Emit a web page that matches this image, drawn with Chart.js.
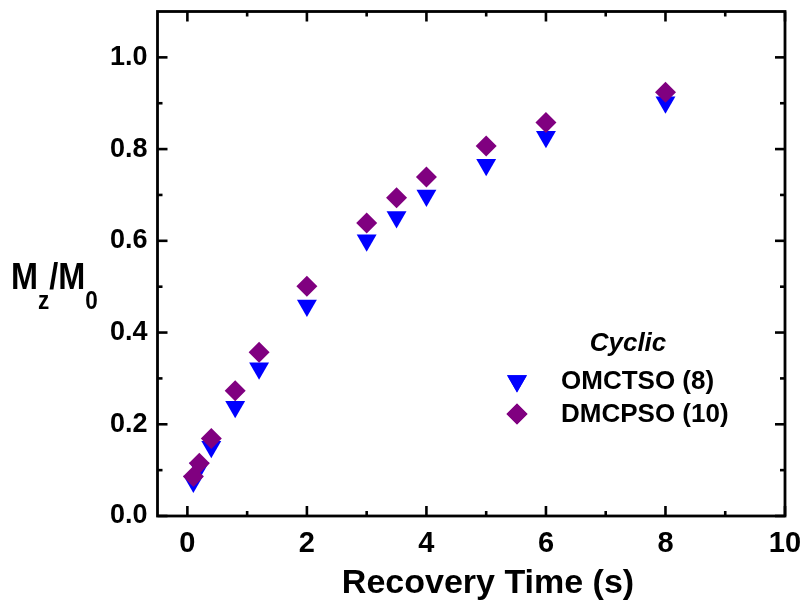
<!DOCTYPE html>
<html><head><meta charset="utf-8">
<script src="https://cdn.jsdelivr.net/npm/chart.js@4/dist/chart.umd.min.js"></script>
<style>html,body{margin:0;padding:0;background:#fff;overflow:hidden}#wrap{width:808px;height:613px}</style>
</head><body><div id="wrap"><canvas id="c" width="808" height="613"></canvas></div>
<script>
// ---- data ----
const recoveryTime = [0.1, 0.2, 0.4, 0.8, 1.2, 2, 3, 3.5, 4, 5, 6, 8];
const omctso = [0.075, 0.105, 0.151, 0.238, 0.322, 0.459, 0.601, 0.652, 0.699, 0.766, 0.827, 0.902];
const dmcpso = [0.086, 0.115, 0.169, 0.273, 0.357, 0.501, 0.639, 0.694, 0.739, 0.807, 0.858, 0.924];
const seriesLabels = ['OMCTSO (8)', 'DMCPSO (10)'];
const legendTitle = 'Cyclic';
const xTitle = 'Recovery Time (s)';
const xTicks = [0, 2, 4, 6, 8, 10];
const xMinor = [1, 3, 5, 7, 9];
const yTicks = [0, 0.2, 0.4, 0.6, 0.8, 1.0];
const yMinor = [0.1, 0.3, 0.5, 0.7, 0.9];

const FONT = "'Liberation Sans', Arial, sans-serif";

const framePlugin = {
  id: 'frame',
  afterDatasetsDraw(chart) {
    const ctx = chart.ctx, a = chart.chartArea;
    const xs = chart.scales.x, ys = chart.scales.y;
    ctx.save();
    ctx.strokeStyle = '#000';
    ctx.lineWidth = 2.6;
    ctx.lineCap = 'butt';
    const tick = (x1, y1, x2, y2) => { ctx.beginPath(); ctx.moveTo(x1, y1); ctx.lineTo(x2, y2); ctx.stroke(); };
    const MAJ = 10, MIN = 5;
    xTicks.forEach(v => { const p = xs.getPixelForValue(v); tick(p, a.bottom, p, a.bottom - MAJ); tick(p, a.top, p, a.top + MAJ); });
    xMinor.forEach(v => { const p = xs.getPixelForValue(v); tick(p, a.bottom, p, a.bottom - MIN); tick(p, a.top, p, a.top + MIN); });
    yTicks.forEach(v => { const p = ys.getPixelForValue(v); tick(a.left, p, a.left + MAJ, p); tick(a.right, p, a.right - MAJ, p); });
    yMinor.forEach(v => { const p = ys.getPixelForValue(v); tick(a.left, p, a.left + MIN, p); tick(a.right, p, a.right - MIN, p); });
    ctx.lineWidth = 2.8;
    ctx.lineJoin = 'miter';
    ctx.strokeRect(a.left, a.top, a.right - a.left, a.bottom - a.top);
    ctx.restore();
  },
  afterDraw(chart) {
    const ctx = chart.ctx;
    ctx.save();
    ctx.fillStyle = '#000';
    ctx.textBaseline = 'alphabetic';
    // y-axis title  M_z / M_0
    const big = 'bold 36px ' + FONT, small = 'bold 25px ' + FONT;
    const sx = 0.9;
    let x = 11; const base = 289;
    const piece = (t, f, dy) => {
      ctx.font = f;
      const w = ctx.measureText(t).width * sx;
      ctx.save(); ctx.translate(x, base + dy); ctx.scale(sx, 1); ctx.fillText(t, 0, 0); ctx.restore();
      x += w;
    };
    piece('M', big, 0); piece('z', small, 20); piece('/', big, 0); piece('M', big, 0); piece('0', small, 20);
    // x-axis title
    ctx.textAlign = 'center'; ctx.textBaseline = 'middle';
    ctx.font = 'bold 34px ' + FONT;
    ctx.fillText(xTitle, 488, 584);
    // legend
    ctx.font = 'italic bold 26px ' + FONT;
    ctx.fillText(legendTitle, 628, 344);
    ctx.textAlign = 'left';
    ctx.font = 'bold 26px ' + FONT;
    chart.data.datasets.forEach((ds) => {
      const idx = seriesLabels.indexOf(ds.label);
      const y = 381 + idx * 33;
      ctx.fillStyle = ds.backgroundColor;
      Chart.helpers.drawPoint(ctx, { pointStyle: ds.pointStyle, radius: ds.pointRadius, rotation: ds.rotation || 0, borderWidth: 0 }, 517, y);
      ctx.fill();
      ctx.fillStyle = '#000';
      ctx.fillText(ds.label, 561, y + 1);
    });
    ctx.restore();
  }
};

new Chart(document.getElementById('c'), {
  type: 'scatter',
  data: {
    datasets: [
      {
        label: seriesLabels[0],
        data: recoveryTime.map((t, i) => ({ x: t, y: omctso[i] })),
        pointStyle: 'triangle', rotation: 180, pointRadius: 11.5,
        backgroundColor: '#0000ff', borderColor: '#0000ff', borderWidth: 0, order: 1
      },
      {
        label: seriesLabels[1],
        data: recoveryTime.map((t, i) => ({ x: t, y: dmcpso[i] })),
        pointStyle: 'rectRot', pointRadius: 10.5,
        backgroundColor: '#800080', borderColor: '#800080', borderWidth: 0, order: 0
      }
    ]
  },
  options: {
    responsive: false,
    animation: false,
    devicePixelRatio: 1,
    layout: { padding: { left: 0, right: 23, top: 10, bottom: 0 } },
    plugins: { legend: { display: false }, tooltip: { enabled: false } },
    scales: {
      x: {
        type: 'linear', min: -0.5, max: 10,
        afterBuildTicks: s => { s.ticks = xTicks.map(v => ({ value: v })); },
        afterFit: s => { s.height = 97; s.paddingLeft = 0; s.paddingRight = 0; },
        grid: { display: false, drawTicks: false },
        border: { display: false },
        ticks: { color: '#000', padding: 11, font: { family: FONT, size: 29, weight: 'bold' }, maxRotation: 0, callback: v => String(v) },
        title: { display: false }
      },
      y: {
        type: 'linear', min: 0, max: 1.1,
        afterBuildTicks: s => { s.ticks = yTicks.map(v => ({ value: v })); },
        afterFit: s => { s.width = 157.5; s.paddingTop = 0; s.paddingBottom = 0; },
        grid: { display: false, drawTicks: false },
        border: { display: false },
        ticks: { color: '#000', padding: 10, font: { family: FONT, size: 27, weight: 'bold' }, callback: v => v.toFixed(1) }
      }
    }
  },
  plugins: [framePlugin]
});
</script>
</body></html>
